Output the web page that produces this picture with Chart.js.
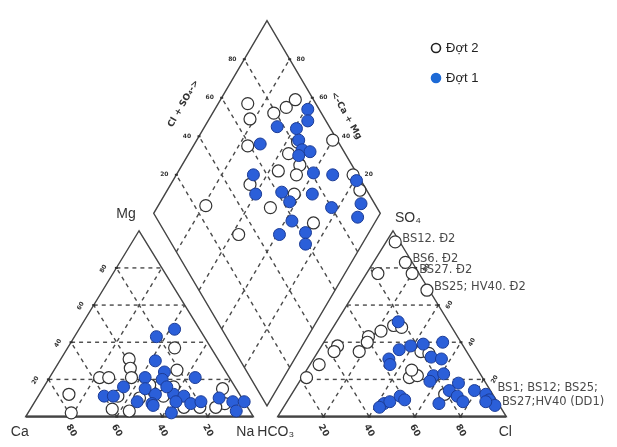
<!DOCTYPE html>
<html>
<head>
<meta charset="utf-8">
<script src="https://cdn.jsdelivr.net/npm/chart.js@4"></script>
<style>
  html, body { margin: 0; padding: 0; background: #fff; }
  canvas { display: block; }
</style>
</head>
<body>
<canvas id="piper" width="617" height="447"></canvas>
<script>
// series names
const seriesNames = ['Đợt 2', 'Đợt 1'];
const gridTicks = [20, 40, 60, 80];

// cation triangle, [Mg %, Na %]
const cationD2 = [[37,47],[31,30],[26,33],[25,54],[21,36],[21,22],[21,26],[12,13],[2,19],[4,36],[3,44],[10,45],[17,51],[16,57],[11,55],[15,79],[7,84],[5,81],[5,74],[5,67],[17,46],[11,35]];
const cationD1 = [[43,36],[47,42],[30,42],[24,49],[21,64],[21,42],[11,29],[11,33],[15,45],[12,51],[7,52],[12,59],[11,64],[8,62],[2,63],[8,45],[7,69],[8,73],[10,80],[8,87],[8,92],[3,91],[20,50],[6,53],[16,35],[16,54]];

// anion triangle, [SO4 %, Cl %]
const anionD2 = [[94,4],[83,14],[77,20],[68,31],[77,5],[49,26],[46,22],[43,18],[35,18],[40,19],[38,7],[35,7],[28,4],[21,2],[21,47],[22,50],[25,46],[35,45],[34,49],[12,67],[48,30]];
const anionD1 = [[51,27],[36,35],[38,39],[39,44],[40,52],[32,51],[31,56],[31,33],[28,35],[22,57],[23,61],[19,57],[18,70],[14,68],[11,73],[8,77],[14,79],[12,85],[9,88],[6,92],[8,87],[7,67],[7,43],[8,45],[11,48],[9,51],[5,42]];

// diamond, [Ca+Mg %, Cl+SO4 %]
const diamondD2 = [[87,70],[82,67],[73,79],[69,86],[67,92],[76,59],[56,75],[55,82],[48,77],[56,66],[47,73],[65,50],[43,67],[50,53],[79,25],[40,98],[22,98],[15,97],[27,68],[57,32]];
const diamondD1 = [[59,95],[56,92],[68,77],[59,85],[71,65],[55,83],[51,82],[47,85],[51,79],[40,81],[31,89],[66,54],[60,50],[49,62],[43,63],[35,75],[23,80],[19,98],[11,94],[9,89],[37,59],[39,50],[28,62],[25,59]];

// sample annotations: anchor in the anion triangle [SO4 %, Cl %] + text
const noteText = ['BS12. Đ2', 'BS6. Đ2', 'BS27. Đ2', 'BS25; HV40. Đ2', 'BS1; BS12; BS25;', 'BS27;HV40 (DD1)'];
const noteAt = [[94,4],[83,14],[77,20],[68,31],[14,86],[6,92]];

// layout of the three plots (in chart units, one unit = one css px)
const CA = [19,423], NA = [252,423], MG = [135,231];
const HC = [277,423], CL = [511,423], SO = [395,231];
const DB = [266,412], DL = [150,213], DR = [382,213];

const mix = (a, b, c, wa, wb, wc) => ({
  x: (a[0]*wa + b[0]*wb + c[0]*wc) / 100,
  y: (a[1]*wa + b[1]*wb + c[1]*wc) / 100
});
const cat = (mg, na) => mix(CA, NA, MG, 100 - mg - na, na, mg);
const ani = (so, cl) => mix(HC, CL, SO, 100 - so - cl, cl, so);
const dia = (cm, cs) => ({
  x: DB[0] + cm/100*(DL[0]-DB[0]) + cs/100*(DR[0]-DB[0]),
  y: DB[1] + cm/100*(DL[1]-DB[1]) + cs/100*(DR[1]-DB[1])
});

const pointsD2 = [...cationD2.map(p => cat(...p)), ...anionD2.map(p => ani(...p)), ...diamondD2.map(p => dia(...p))];
const pointsD1 = [...cationD1.map(p => cat(...p)), ...anionD1.map(p => ani(...p)), ...diamondD1.map(p => dia(...p))];

const piperFrame = {
  id: 'piperFrame',
  beforeDatasetsDraw(chart) {
    const { ctx, scales: { x, y } } = chart;
    const P = p => [x.getPixelForValue(p.x), y.getPixelForValue(p.y)];
    const line = (a, b) => { const A = P(a), B = P(b); ctx.beginPath(); ctx.moveTo(A[0], A[1]); ctx.lineTo(B[0], B[1]); ctx.stroke(); };

    // dashed grid
    ctx.save();
    ctx.strokeStyle = '#4a4a4a';
    ctx.lineWidth = 1.4;
    ctx.setLineDash([4, 4]);
    gridTicks.forEach(k => {
      line(cat(k, 0), cat(k, 100 - k));
      line(cat(0, k), cat(100 - k, k));
      line(cat(0, 100 - k), cat(100 - k, 0));
      line(ani(k, 0), ani(k, 100 - k));
      line(ani(0, k), ani(100 - k, k));
      line(ani(0, 100 - k), ani(100 - k, 0));
      line(dia(k, 0), dia(k, 100));
      line(dia(0, k), dia(100, k));
    });
    ctx.restore();

    // outlines
    ctx.save();
    ctx.strokeStyle = '#444';
    ctx.lineWidth = 1.4;
    const poly = pts => {
      ctx.beginPath();
      pts.map(P).forEach((p, i) => i ? ctx.lineTo(p[0], p[1]) : ctx.moveTo(p[0], p[1]));
      ctx.closePath(); ctx.stroke();
    };
    poly([cat(0,0), cat(0,100), cat(100,0)]);
    poly([ani(0,0), ani(0,100), ani(100,0)]);
    poly([dia(0,0), dia(100,0), dia(100,100), dia(0,100)]);
    ctx.lineWidth = 2.2;
    line(cat(0,0), cat(0,100));
    line(ani(0,0), ani(0,100));
    ctx.restore();

    // tick marks + small tick labels
    ctx.save();
    ctx.fillStyle = '#333';
    ctx.font = 'bold 6px "DejaVu Sans"';
    ctx.textAlign = 'center';
    ctx.textBaseline = 'middle';
    const dot = p => { const A = P(p); ctx.fillRect(A[0] - 1.5, A[1] - 1, 3, 2); };
    const txt = (p, dx, dy, s, rot, font) => {
      const A = P(p);
      ctx.save();
      if (font) ctx.font = font;
      ctx.translate(A[0] + dx, A[1] + dy);
      ctx.rotate(rot || 0);
      ctx.fillText(s, 0, 0);
      ctx.restore();
    };
    gridTicks.forEach(k => {
      dot(cat(0, k)); dot(cat(k, 0)); dot(ani(0, k)); dot(ani(k, 100 - k));
      dot(dia(100, k)); dot(dia(k, 100));
      txt(cat(k, 0), -13, 1, String(k), -Math.PI / 3);
      txt(ani(k, 100 - k), 11, 0, String(k), -Math.PI / 3);
      txt(dia(100, k), -12, 0, String(k), 0);
      txt(dia(k, 100), 11, 0, String(k), 0);
      txt(cat(0, k), 0, 14, String(100 - k), Math.PI / 3, 'bold 9px "DejaVu Sans"');
      txt(ani(0, k), 0, 14, String(k), Math.PI / 3, 'bold 9px "DejaVu Sans"');
    });
    ctx.restore();
  },
  afterDatasetsDraw(chart) {
    const { ctx, scales: { x, y } } = chart;
    const P = p => [x.getPixelForValue(p.x), y.getPixelForValue(p.y)];
    ctx.save();
    ctx.fillStyle = '#333';
    ctx.textBaseline = 'middle';

    // corner labels
    ctx.font = '14px "Liberation Sans"';
    ctx.textAlign = 'center';
    const put = (p, dx, dy, s) => { const A = P(p); ctx.fillText(s, A[0] + dx, A[1] + dy); };
    put(cat(0, 0), -6, 16, 'Ca');
    put(cat(0, 100), -8, 16, 'Na');
    put(cat(100, 0), -13, -17, 'Mg');
    put(ani(0, 0), -2, 16, 'HCO₃');
    put(ani(0, 100), -1, 16, 'Cl');
    put(ani(100, 0), 15, -13, 'SO₄');

    // diamond axis titles
    ctx.font = 'bold 9px "DejaVu Sans"';
    let A = P(dia(100, 58));
    ctx.save(); ctx.translate(A[0] - 36, A[1] + 2); ctx.rotate(-Math.PI / 3); ctx.fillText('Cl + SO₄->', 0, 0); ctx.restore();
    A = P(dia(45, 100));
    ctx.save(); ctx.translate(A[0] + 17, A[1] - 11); ctx.rotate(Math.PI / 3); ctx.fillText('<-Ca + Mg', 0, 0); ctx.restore();

    // sample notes
    ctx.font = '11.5px "DejaVu Sans"';
    ctx.fillStyle = '#4a4a4a';
    ctx.textAlign = 'left';
    noteText.forEach((s, i) => {
      const B = P(ani(...noteAt[i]));
      ctx.fillText(s, B[0] + 7, B[1] - 3);
    });

    // legend
    ctx.font = '13px "Liberation Sans"';
    const leg = [{ fill: '#fff', stroke: '#222' }, { fill: '#1d6ad6', stroke: '#1d6ad6' }];
    seriesNames.forEach((s, i) => {
      const cy = 48 + i * 30;
      ctx.beginPath(); ctx.arc(436, cy, 4.5, 0, Math.PI * 2);
      ctx.fillStyle = leg[i].fill; ctx.fill();
      ctx.lineWidth = 1.6; ctx.strokeStyle = leg[i].stroke; ctx.stroke();
      ctx.fillStyle = '#222';
      ctx.fillText(s, 446, cy);
    });
    ctx.restore();
  }
};

new Chart(document.getElementById('piper'), {
  type: 'scatter',
  data: {
    datasets: [
      {
        label: seriesNames[0], data: pointsD2, order: 2,
        pointRadius: 6, pointBackgroundColor: '#fff',
        pointBorderColor: '#333', pointBorderWidth: 1.2
      },
      {
        label: seriesNames[1], data: pointsD1, order: 1,
        pointRadius: 6, pointBackgroundColor: '#2b5fd9',
        pointBorderColor: '#1c3c96', pointBorderWidth: 1
      }
    ]
  },
  options: {
    responsive: false,
    animation: false,
    events: [],
    devicePixelRatio: 1,
    layout: { padding: 0 },
    clip: false,
    plugins: { legend: { display: false }, tooltip: { enabled: false } },
    scales: {
      x: { type: 'linear', min: 0, max: 617, display: false },
      y: { type: 'linear', min: 0, max: 447, reverse: true, display: false }
    }
  },
  plugins: [piperFrame]
});
</script>
</body>
</html>
